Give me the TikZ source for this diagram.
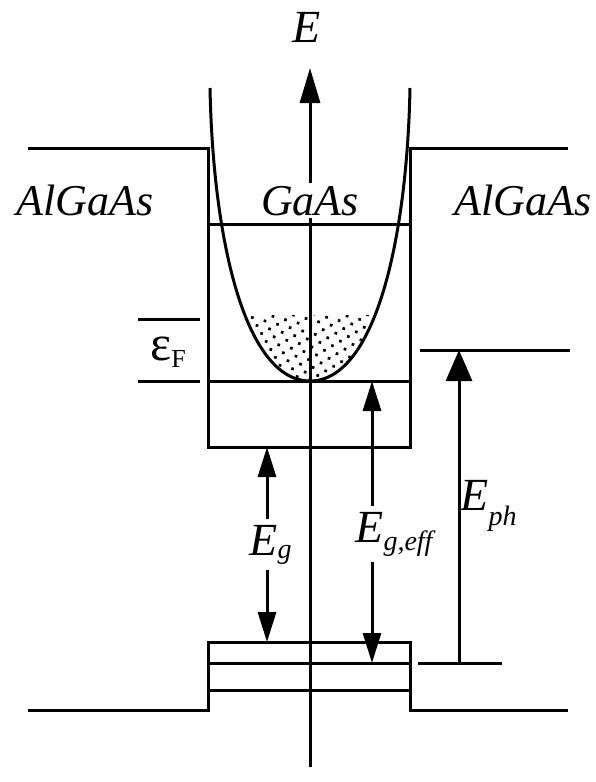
\documentclass[tikz,border=0pt]{standalone}
\usepackage{fontspec}
\setmainfont{Liberation Serif}
\usetikzlibrary{arrows.meta,patterns.meta}

\begin{document}
\begin{tikzpicture}[x=0.5pt, y=-0.5pt, band/.style={line width=1.5pt}, axis/.style={line width=1.5pt,-{Triangle[length=17.5pt,width=10pt]}}, uarr/.style={line width=1.5pt,-{Triangle[length=15.5pt,width=13pt]}}, darr/.style={line width=1.5pt,{Triangle[length=15pt,width=9pt]}-{Triangle[length=15pt,width=9pt]}}, mat/.style={font=\fontsize{22}{25}\selectfont\itshape, inner sep=0pt}, sym/.style={font=\fontsize{23}{26}\selectfont\itshape, inner sep=0pt}, lbl/.style={fill=white, inner xsep=1pt, inner ysep=3pt}]
\useasboundingbox (0,0) rectangle (595,782);
\coordinate (ax0) at (310,767);
\coordinate (ax1) at (310,68);
\coordinate (cb) at (267,447);
\coordinate (vb) at (267,642);
\coordinate (e1) at (372,381);
\coordinate (h1) at (372,663);
\coordinate (ph0) at (459,663);
\coordinate (ph1) at (459,350);
% filled electron states
\begin{scope}
\clip (200,315) rectangle (420,385);
\fill[pattern={Dots[radius=0.95pt,distance=4.6pt,angle=30]}] (210,88) .. controls (213,240) and (245,381) .. (310,381) .. controls (375,381) and (407,240) .. (410,88) -- cycle;
\end{scope}
\draw[band] (210,88) .. controls (213,240) and (245,381) .. (310,381) .. controls (375,381) and (407,240) .. (410,88);
% conduction and valence bands
\draw[band] (28,148) -- (208,148) -- (208,447) -- (410,447) -- (410,148) -- (568,148);
\draw[band] (208,224) -- (410,224);
\draw[band] (208,381) -- (410,381);
\draw[band] (138,319) -- (200,319);
\draw[band] (138,381) -- (200,381);
\draw[band] (420,350) -- (570,350);
\draw[band] (28,710) -- (208,710) -- (208,642) -- (410,642) -- (410,710) -- (568,710);
\draw[band] (208,663) -- (410,663);
\draw[band] (208,690) -- (410,690);
\draw[band] (418,663) -- (502,663);
\draw[axis] (ax0) -- (ax1);
\draw[darr] (cb) -- (vb);
\draw[darr] (e1) -- (h1);
\draw[uarr] (ph0) -- (ph1);
\node[sym, anchor=base] (en) at (307,42) {E};
\node[mat, anchor=base] (barl) at (85,215) {AlGaAs};
\node[mat, anchor=base, fill=white, inner ysep=1.5pt] (well) at (310,215) {GaAs};
\node[mat, anchor=base] (barr) at (523,215) {AlGaAs};
\node[anchor=base west, inner sep=0pt, font=\fontsize{25}{27}\selectfont] (ef) at (150,360) {ε\raisebox{-3.5pt}{\fontsize{13}{14}\selectfont F}};
\node[sym, lbl, anchor=base west] (eg) at (247,555) {E\raisebox{-1.5pt}{\fontsize{14}{16}\selectfont g}};
\node[sym, lbl, anchor=base west] (egeff) at (353,542) {E\raisebox{-4pt}{\fontsize{14}{16}\selectfont g,eff}};
\node[sym, anchor=base west] (eph) at (460,510) {E\raisebox{-7.5pt}{\fontsize{14}{16}\selectfont ph}};
\end{tikzpicture}
\end{document}
